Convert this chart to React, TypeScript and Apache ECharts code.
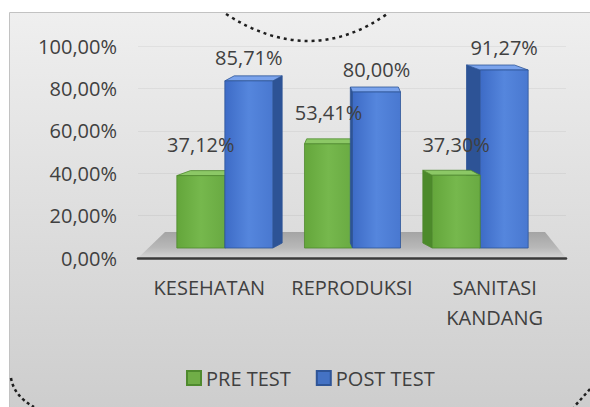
import React, { useEffect, useRef } from "react";
import * as echarts from "echarts";

const categories = ["KESEHATAN", "REPRODUKSI", "SANITASI\nKANDANG"];
const preTest = [37.12, 53.41, 37.3];
const postTest = [85.71, 80.0, 91.27];
const yTicks = { min: 0, max: 100, interval: 20 };
const seriesNames = ["PRE TEST", "POST TEST"];

const FONT = "'Open Sans', 'Noto Sans', sans-serif";
const TEXT = "#404040";

const fmt = (v: number) => v.toFixed(2).replace(".", ",") + "%";

const palette = {
  pre: {
    front: [
      { offset: 0, color: "#64a63b" },
      { offset: 0.5, color: "#76b84d" },
      { offset: 1, color: "#69aa42" },
    ],
    side: "#4c8a2b",
    top: "#8cc866",
    stroke: "#4f8a2e",
    legend: "#70ad47",
  },
  post: {
    front: [
      { offset: 0, color: "#3d6bc6" },
      { offset: 0.5, color: "#5586dd" },
      { offset: 1, color: "#4978d0" },
    ],
    side: "#2d5396",
    top: "#7aa3ec",
    stroke: "#2f5597",
    legend: "#4472c4",
  },
};

function makeRender(isPre: boolean) {
  const pal = isPre ? palette.pre : palette.post;
  return (params: any, api: any) => {
    const cat = api.value(0);
    const val = api.value(1);
    const top = api.coord([cat, val]);
    const base = api.coord([cat, 0]);
    const cx = top[0];
    const yTop = top[1];
    const yBase = base[1];
    const bw = api.size([1, 0])[0] * 0.376;
    const x0 = isPre ? cx - bw : cx;
    const cs = params.coordSys;
    const vx = cs.x + cs.width / 2;
    const dx = (vx - (x0 + bw / 2)) * 0.09;
    const dy = -5;
    const catDx = vx - cx;
    const onTop = catDx < -1 ? isPre : !isPre;
    const zb = onTop ? 10 : 0;
    const sx = dx >= 0 ? x0 + bw : x0;
    return {
      type: "group",
      children: [
        {
          type: "polygon",
          z2: zb + 1,
          shape: {
            points: [
              [sx, yTop],
              [sx + dx, yTop + dy],
              [sx + dx, yBase + dy],
              [sx, yBase],
            ],
          },
          style: { fill: pal.side, stroke: pal.stroke, lineWidth: 0.8 },
        },
        {
          type: "polygon",
          z2: zb + 1,
          shape: {
            points: [
              [x0, yTop],
              [x0 + bw, yTop],
              [x0 + bw + dx, yTop + dy],
              [x0 + dx, yTop + dy],
            ],
          },
          style: { fill: pal.top, stroke: pal.stroke, lineWidth: 0.8 },
        },
        {
          type: "rect",
          z2: zb + 2,
          shape: { x: x0, y: yTop, width: bw, height: yBase - yTop },
          style: {
            fill: {
              type: "linear",
              x: 0,
              y: 0,
              x2: 1,
              y2: 0,
              colorStops: pal.front,
            },
            stroke: pal.stroke,
            lineWidth: 0.8,
          },
        },
        {
          type: "text",
          z2: 50,
          style: {
            text: fmt(val),
            x: x0 + bw / 2,
            y: yTop - (isPre ? 31 : 23),
            align: "center",
            verticalAlign: "middle",
            fill: TEXT,
            fontSize: 20,
            fontFamily: FONT,
          },
        },
      ],
    };
  };
}

export default function App() {
  const ref = useRef<HTMLDivElement>(null);
  useEffect(() => {
    if (!ref.current) return;
    const chart = echarts.init(ref.current, null, { renderer: "svg" });
    const option: any = {
      animation: false,
      backgroundColor: "#ffffff",
      textStyle: { fontFamily: FONT },
      graphic: [
        {
          type: "rect",
          z: -10,
          shape: { x: 9.5, y: 12.5, width: 590, height: 400 },
          style: {
            fill: {
              type: "linear",
              x: 0,
              y: 0,
              x2: 0,
              y2: 1,
              colorStops: [
                { offset: 0, color: "#efefef" },
                { offset: 1, color: "#cdcdcd" },
              ],
            },
            stroke: "#c2c2c2",
            lineWidth: 1,
          },
        },
        {
          type: "polygon",
          z: -5,
          shape: {
            points: [
              [165, 232],
              [545, 232],
              [566, 258],
              [138, 258],
            ],
          },
          style: {
            fill: {
              type: "linear",
              x: 0,
              y: 0,
              x2: 0,
              y2: 1,
              colorStops: [
                { offset: 0, color: "#a4a4a4" },
                { offset: 0.6, color: "#b8b8b8" },
                { offset: 1, color: "#d6d6d6" },
              ],
            },
          },
        },
        {
          type: "bezierCurve",
          z: 20,
          shape: { x1: 226, y1: 14, x2: 387, y2: 14, cpx1: 310, cpy1: 68 },
          style: { stroke: "#1e1e1e", lineWidth: 2.5, lineDash: [3, 4], fill: null },
        },
        {
          type: "bezierCurve",
          z: 20,
          shape: { x1: 11, y1: 378, x2: 34, y2: 407, cpx1: 14, cpy1: 396 },
          style: { stroke: "#1e1e1e", lineWidth: 2.5, lineDash: [3, 3], fill: null },
        },
        {
          type: "bezierCurve",
          z: 20,
          shape: { x1: 590, y1: 389, x2: 574, y2: 407, cpx1: 582, cpy1: 398 },
          style: { stroke: "#1e1e1e", lineWidth: 2.5, lineDash: [3, 3], fill: null },
        },
      ],
      grid: [
        { left: 138, right: 24, top: 46, bottom: 149 },
        { left: 161, right: 46, top: 53, bottom: 159 },
      ],
      xAxis: [
        {
          type: "category",
          gridIndex: 0,
          data: categories,
          axisLine: { lineStyle: { color: "#3a3a3a", width: 2.5 } },
          axisTick: { show: false },
          axisLabel: {
            interval: 0,
            color: TEXT,
            fontSize: 20,
            lineHeight: 30,
            margin: 14,
            fontFamily: FONT,
          },
        },
        { type: "category", gridIndex: 1, data: categories, show: false },
      ],
      yAxis: [
        {
          type: "value",
          gridIndex: 0,
          min: yTicks.min,
          max: yTicks.max,
          interval: yTicks.interval,
          axisLine: { show: false },
          axisTick: { show: false },
          splitLine: { show: true, lineStyle: { color: "rgba(0,0,0,0.05)" } },
          axisLabel: {
            formatter: (v: number) => fmt(v),
            color: TEXT,
            fontSize: 20,
            margin: 21,
            fontFamily: FONT,
          },
        },
        {
          type: "value",
          gridIndex: 1,
          min: yTicks.min,
          max: yTicks.max,
          show: false,
        },
      ],
      legend: {
        left: 181,
        top: 363,
        itemWidth: 14,
        itemHeight: 14,
        itemGap: 25,
        icon: "rect",
        textStyle: { color: TEXT, fontSize: 20, fontFamily: FONT },
        data: seriesNames,
      },
      series: [
        {
          type: "custom",
          name: seriesNames[0],
          xAxisIndex: 1,
          yAxisIndex: 1,
          itemStyle: { color: palette.pre.legend, borderColor: palette.pre.stroke, borderWidth: 1.5 },
          encode: { x: 0, y: 1 },
          data: preTest.map((v, i) => [i, v]),
          renderItem: makeRender(true),
        },
        {
          type: "custom",
          name: seriesNames[1],
          xAxisIndex: 1,
          yAxisIndex: 1,
          itemStyle: { color: palette.post.legend, borderColor: palette.post.stroke, borderWidth: 1.5 },
          encode: { x: 0, y: 1 },
          data: postTest.map((v, i) => [i, v]),
          renderItem: makeRender(false),
        },
      ],
    };
    chart.setOption(option);
    return () => chart.dispose();
  }, []);
  return (
    <div
      ref={ref}
      style={{ position: "absolute", left: 0, top: 0, width: 590, height: 407 }}
    />
  );
}
